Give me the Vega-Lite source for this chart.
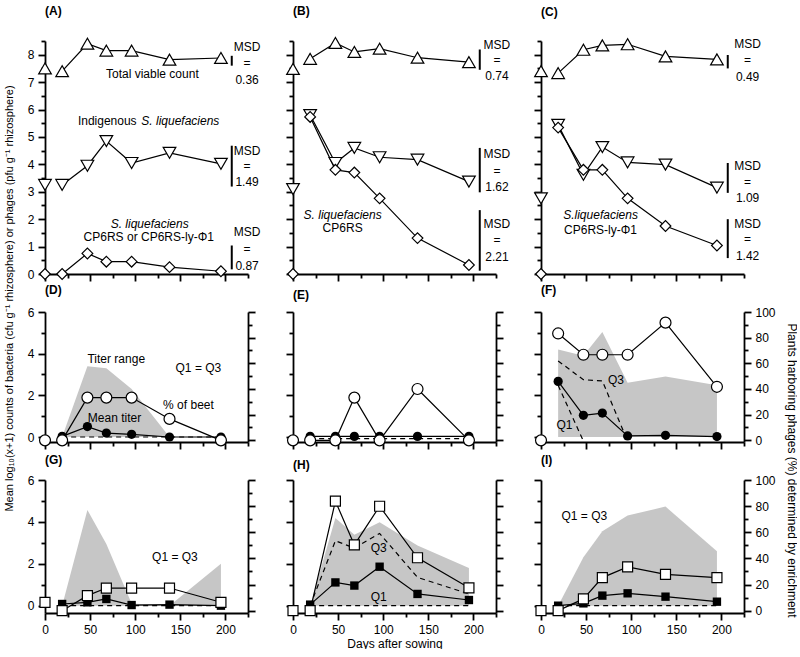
{
"$schema":"https://vega.github.io/schema/vega-lite/v6.json",
"padding":{"left":2,"top":5,"right":0,"bottom":0},
"bounds":"flush",
"columns":3,
"spacing":{"row":38,"column":45},
"datasets":{
"top":[
{"p":"A","s":"tvc","day":0,"v":7.5},{"p":"A","s":"tvc","day":19,"v":7.4},{"p":"A","s":"tvc","day":47,"v":8.4},{"p":"A","s":"tvc","day":68,"v":8.15},{"p":"A","s":"tvc","day":96,"v":8.15},{"p":"A","s":"tvc","day":138,"v":7.82},{"p":"A","s":"tvc","day":195,"v":7.88},
{"p":"A","s":"ind","day":0,"v":3.25},{"p":"A","s":"ind","day":19,"v":3.25},{"p":"A","s":"ind","day":47,"v":3.95},{"p":"A","s":"ind","day":68,"v":4.85},{"p":"A","s":"ind","day":96,"v":4.05},{"p":"A","s":"ind","day":138,"v":4.42},{"p":"A","s":"ind","day":195,"v":4.02},
{"p":"A","s":"slq","day":0,"v":0},{"p":"A","s":"slq","day":19,"v":0},{"p":"A","s":"slq","day":47,"v":0.75},{"p":"A","s":"slq","day":68,"v":0.45},{"p":"A","s":"slq","day":96,"v":0.45},{"p":"A","s":"slq","day":138,"v":0.25},{"p":"A","s":"slq","day":195,"v":0.1},
{"p":"B","s":"tvc","day":0,"v":7.48},{"p":"B","s":"tvc","day":19,"v":7.85},{"p":"B","s":"tvc","day":47,"v":8.43},{"p":"B","s":"tvc","day":68,"v":8.1},{"p":"B","s":"tvc","day":96,"v":8.22},{"p":"B","s":"tvc","day":138,"v":7.89},{"p":"B","s":"tvc","day":195,"v":7.73},
{"p":"B","s":"ind","day":0,"v":3.1},{"p":"B","s":"ind","day":19,"v":5.8},{"p":"B","s":"ind","day":47,"v":4.05},{"p":"B","s":"ind","day":68,"v":4.6},{"p":"B","s":"ind","day":96,"v":4.26},{"p":"B","s":"ind","day":138,"v":4.17},{"p":"B","s":"ind","day":195,"v":3.37},
{"p":"B","s":"slq","day":0,"v":0},{"p":"B","s":"slq","day":19,"v":5.73},{"p":"B","s":"slq","day":47,"v":3.8},{"p":"B","s":"slq","day":68,"v":3.7},{"p":"B","s":"slq","day":96,"v":2.76},{"p":"B","s":"slq","day":138,"v":1.31},{"p":"B","s":"slq","day":195,"v":0.33},
{"p":"C","s":"tvc","day":0,"v":7.4},{"p":"C","s":"tvc","day":19,"v":7.33},{"p":"C","s":"tvc","day":47,"v":8.18},{"p":"C","s":"tvc","day":68,"v":8.34},{"p":"C","s":"tvc","day":96,"v":8.38},{"p":"C","s":"tvc","day":138,"v":7.94},{"p":"C","s":"tvc","day":195,"v":7.83},
{"p":"C","s":"ind","day":0,"v":2.76},{"p":"C","s":"ind","day":19,"v":5.44},{"p":"C","s":"ind","day":47,"v":3.62},{"p":"C","s":"ind","day":68,"v":4.63},{"p":"C","s":"ind","day":96,"v":4.07},{"p":"C","s":"ind","day":138,"v":3.99},{"p":"C","s":"ind","day":195,"v":3.15},
{"p":"C","s":"slq","day":0,"v":0},{"p":"C","s":"slq","day":19,"v":5.34},{"p":"C","s":"slq","day":47,"v":3.8},{"p":"C","s":"slq","day":68,"v":3.8},{"p":"C","s":"slq","day":96,"v":2.76},{"p":"C","s":"slq","day":138,"v":1.75},{"p":"C","s":"slq","day":195,"v":1.04}
],
"msd":[
{"p":"A","day":207,"v":7.6,"v2":7.96},{"p":"A","day":207,"v":3.19,"v2":4.68},{"p":"A","day":207,"v":0.17,"v2":1.04},
{"p":"B","day":207,"v":7.45,"v2":8.19},{"p":"B","day":207,"v":2.98,"v2":4.6},{"p":"B","day":207,"v":0.12,"v2":2.33},
{"p":"C","day":207,"v":7.5,"v2":7.99},{"p":"C","day":207,"v":2.96,"v2":4.05},{"p":"C","day":207,"v":0.58,"v2":2.0}
],
"msdt":[
{"p":"A","day":224,"v":8.28,"t":"MSD"},{"p":"A","day":224,"v":7.69,"t":"="},{"p":"A","day":224,"v":7.09,"t":"0.36"},
{"p":"A","day":224,"v":4.48,"t":"MSD"},{"p":"A","day":224,"v":3.93,"t":"="},{"p":"A","day":224,"v":3.34,"t":"1.49"},
{"p":"A","day":224,"v":1.53,"t":"MSD"},{"p":"A","day":224,"v":0.92,"t":"="},{"p":"A","day":224,"v":0.31,"t":"0.87"},
{"p":"B","day":226,"v":8.34,"t":"MSD"},{"p":"B","day":226,"v":7.79,"t":"="},{"p":"B","day":226,"v":7.24,"t":"0.74"},
{"p":"B","day":226,"v":4.36,"t":"MSD"},{"p":"B","day":226,"v":3.77,"t":"="},{"p":"B","day":226,"v":3.19,"t":"1.62"},
{"p":"B","day":226,"v":1.84,"t":"MSD"},{"p":"B","day":226,"v":1.23,"t":"="},{"p":"B","day":226,"v":0.61,"t":"2.21"},
{"p":"C","day":229,"v":8.4,"t":"MSD"},{"p":"C","day":229,"v":7.82,"t":"="},{"p":"C","day":229,"v":7.2,"t":"0.49"},
{"p":"C","day":229,"v":3.93,"t":"MSD"},{"p":"C","day":229,"v":3.35,"t":"="},{"p":"C","day":229,"v":2.76,"t":"1.09"},
{"p":"C","day":229,"v":1.84,"t":"MSD"},{"p":"C","day":229,"v":1.26,"t":"="},{"p":"C","day":229,"v":0.67,"t":"1.42"}
],
"ann":[
{"p":"A","day":119,"v":7.3,"t":"Total viable count"},{"p":"A","day":69,"v":5.58,"t":"Indigenous"},{"p":"A","day":115,"v":1.35,"t":"CP6RS or CP6RS-ly-Φ1"},
{"p":"B","day":55,"v":1.68,"t":"CP6RS"},
{"p":"C","day":66,"v":1.6,"t":"CP6RS-ly-Φ1"},
{"p":"D","day":79,"v":3.76,"t":"Titer range"},{"p":"D","day":170,"v":3.31,"t":"Q1 = Q3"},{"p":"D","day":159,"v":1.52,"t":"% of beet"},{"p":"D","day":77,"v":0.93,"t":"Mean titer"},
{"p":"F","day":83,"v":2.75,"t":"Q3"},{"p":"F","day":26,"v":0.56,"t":"Q1"},
{"p":"G","day":144,"v":2.32,"t":"Q1 = Q3"},
{"p":"H","day":95,"v":2.77,"t":"Q3"},{"p":"H","day":95,"v":0.4,"t":"Q1"},
{"p":"I","day":48,"v":4.27,"t":"Q1 = Q3"}
],
"anni":[
{"p":"A","day":150,"v":5.58,"t":"S. liquefaciens"},{"p":"A","day":116,"v":1.84,"t":"S. liquefaciens"},
{"p":"B","day":55,"v":2.17,"t":"S. liquefaciens"},
{"p":"C","day":66,"v":2.15,"t":"S.liquefaciens"}
],
"bot":[
{"p":"D","s":"pct","day":0,"v":0},{"p":"D","s":"pct","day":19,"v":0},{"p":"D","s":"pct","day":47,"v":33.3},{"p":"D","s":"pct","day":68,"v":33.3},{"p":"D","s":"pct","day":96,"v":33.3},{"p":"D","s":"pct","day":138,"v":16.7},{"p":"D","s":"pct","day":195,"v":0},
{"p":"D","s":"mean","day":19,"v":0.03},{"p":"D","s":"mean","day":47,"v":0.5},{"p":"D","s":"mean","day":68,"v":0.19},{"p":"D","s":"mean","day":96,"v":0.13},{"p":"D","s":"mean","day":138,"v":0},{"p":"D","s":"mean","day":195,"v":0},
{"p":"D","s":"q1","day":19,"v":0},{"p":"D","s":"q1","day":47,"v":0},{"p":"D","s":"q1","day":68,"v":0},{"p":"D","s":"q1","day":96,"v":0},{"p":"D","s":"q1","day":138,"v":0},{"p":"D","s":"q1","day":195,"v":0},
{"p":"E","s":"pct","day":0,"v":0},{"p":"E","s":"pct","day":19,"v":0},{"p":"E","s":"pct","day":47,"v":0},{"p":"E","s":"pct","day":68,"v":33.3},{"p":"E","s":"pct","day":96,"v":0},{"p":"E","s":"pct","day":138,"v":40},{"p":"E","s":"pct","day":195,"v":0},
{"p":"E","s":"mean","day":19,"v":0.03},{"p":"E","s":"mean","day":47,"v":0.03},{"p":"E","s":"mean","day":68,"v":0.03},{"p":"E","s":"mean","day":96,"v":0.03},{"p":"E","s":"mean","day":138,"v":0.03},{"p":"E","s":"mean","day":195,"v":0.03},
{"p":"E","s":"q1","day":19,"v":-0.08},{"p":"E","s":"q1","day":195,"v":-0.08},
{"p":"F","s":"pct","day":0,"v":0},{"p":"F","s":"pct","day":19,"v":83.3},{"p":"F","s":"pct","day":47,"v":66.7},{"p":"F","s":"pct","day":68,"v":66.7},{"p":"F","s":"pct","day":96,"v":66.7},{"p":"F","s":"pct","day":138,"v":91.7},{"p":"F","s":"pct","day":195,"v":41.7},
{"p":"F","s":"mean","day":19,"v":2.67},{"p":"F","s":"mean","day":47,"v":1.04},{"p":"F","s":"mean","day":68,"v":1.15},{"p":"F","s":"mean","day":96,"v":0.05},{"p":"F","s":"mean","day":138,"v":0.08},{"p":"F","s":"mean","day":195,"v":0.02},
{"p":"F","s":"q3","day":19,"v":3.65},{"p":"F","s":"q3","day":47,"v":2.75},{"p":"F","s":"q3","day":68,"v":2.69},{"p":"F","s":"q3","day":96,"v":-0.2},
{"p":"F","s":"q1","day":19,"v":2.48},{"p":"F","s":"q1","day":47,"v":-0.2},
{"p":"G","s":"pct","day":0,"v":6.4},{"p":"G","s":"pct","day":19,"v":0},{"p":"G","s":"pct","day":47,"v":11.5},{"p":"G","s":"pct","day":68,"v":17.3},{"p":"G","s":"pct","day":96,"v":17.3},{"p":"G","s":"pct","day":138,"v":17.3},{"p":"G","s":"pct","day":195,"v":6.4},
{"p":"G","s":"mean","day":19,"v":0.08},{"p":"G","s":"mean","day":47,"v":0.16},{"p":"G","s":"mean","day":68,"v":0.32},{"p":"G","s":"mean","day":96,"v":0.03},{"p":"G","s":"mean","day":138,"v":0.05},{"p":"G","s":"mean","day":195,"v":0},
{"p":"G","s":"q1","day":19,"v":0},{"p":"G","s":"q1","day":195,"v":0},
{"p":"H","s":"pct","day":0,"v":0},{"p":"H","s":"pct","day":19,"v":0},{"p":"H","s":"pct","day":47,"v":83.8},{"p":"H","s":"pct","day":68,"v":50.3},{"p":"H","s":"pct","day":96,"v":79.9},{"p":"H","s":"pct","day":138,"v":40.5},{"p":"H","s":"pct","day":195,"v":17.5},
{"p":"H","s":"mean","day":19,"v":0.05},{"p":"H","s":"mean","day":47,"v":1.11},{"p":"H","s":"mean","day":68,"v":0.96},{"p":"H","s":"mean","day":96,"v":1.86},{"p":"H","s":"mean","day":138,"v":0.56},{"p":"H","s":"mean","day":195,"v":0.27},
{"p":"H","s":"q3","day":19,"v":0},{"p":"H","s":"q3","day":47,"v":3.1},{"p":"H","s":"q3","day":68,"v":2.75},{"p":"H","s":"q3","day":96,"v":3.45},{"p":"H","s":"q3","day":138,"v":1.35},{"p":"H","s":"q3","day":195,"v":0.56},
{"p":"H","s":"q1","day":19,"v":0},{"p":"H","s":"q1","day":195,"v":0},
{"p":"I","s":"pct","day":0,"v":0},{"p":"I","s":"pct","day":19,"v":0},{"p":"I","s":"pct","day":47,"v":9},{"p":"I","s":"pct","day":68,"v":25.3},{"p":"I","s":"pct","day":96,"v":33.5},{"p":"I","s":"pct","day":138,"v":27.8},{"p":"I","s":"pct","day":195,"v":25.3},
{"p":"I","s":"mean","day":19,"v":0},{"p":"I","s":"mean","day":47,"v":0.11},{"p":"I","s":"mean","day":68,"v":0.48},{"p":"I","s":"mean","day":96,"v":0.59},{"p":"I","s":"mean","day":138,"v":0.43},{"p":"I","s":"mean","day":195,"v":0.19},
{"p":"I","s":"q1","day":19,"v":0},{"p":"I","s":"q1","day":195,"v":0}
],
"rng":[
{"p":"D","day":19,"v":0,"v2":0},{"p":"D","day":47,"v":3.4,"v2":0},{"p":"D","day":68,"v":3.3,"v2":0},{"p":"D","day":96,"v":2.3,"v2":0},{"p":"D","day":138,"v":0,"v2":0},{"p":"D","day":195,"v":0,"v2":0},
{"p":"F","day":19,"v":4.2,"v2":0},{"p":"F","day":47,"v":3.9,"v2":0},{"p":"F","day":68,"v":5.04,"v2":0},{"p":"F","day":96,"v":2.6,"v2":0},{"p":"F","day":138,"v":2.9,"v2":0},{"p":"F","day":195,"v":2.48,"v2":0},
{"p":"G","day":19,"v":0,"v2":0},{"p":"G","day":47,"v":4.57,"v2":0},{"p":"G","day":68,"v":2.95,"v2":0},{"p":"G","day":96,"v":0.1,"v2":0},{"p":"G","day":138,"v":0,"v2":0},{"p":"G","day":195,"v":2.0,"v2":0},
{"p":"H","day":19,"v":0,"v2":0},{"p":"H","day":47,"v":4.19,"v2":0},{"p":"H","day":68,"v":3.39,"v2":0},{"p":"H","day":96,"v":3.98,"v2":0},{"p":"H","day":138,"v":2.87,"v2":0},{"p":"H","day":195,"v":1.8,"v2":0},
{"p":"I","day":19,"v":0,"v2":0},{"p":"I","day":47,"v":2.31,"v2":0},{"p":"I","day":68,"v":3.55,"v2":0},{"p":"I","day":96,"v":4.3,"v2":0},{"p":"I","day":138,"v":4.73,"v2":0},{"p":"I","day":195,"v":2.6,"v2":0}
]
},
"concat":[
{"width":203,"height":233,"title":{"text":"(A)","offset":17},
 "encoding":{"x":{"field":"day","type":"quantitative","scale":{"domain":[0,225],"nice":false,"zero":false},"axis":{"values":[0,25,50,75,100,125,150,175,200,225],"tickSize":{"condition":{"test":"datum.value % 50 == 0","value":7},"value":4},"labels":false,"title":null}},
  "y":{"field":"v","type":"quantitative","scale":{"domain":[0,8.5],"nice":false},"axis":{"values":[0,0.5,1,1.5,2,2.5,3,3.5,4,4.5,5,5.5,6,6.5,7,7.5,8,8.5],"tickSize":{"condition":{"test":"datum.value % 1 == 0","value":7},"value":4},"labelExpr":"datum.value % 1 == 0 ? format(datum.value, 'd') : ''","title":"Mean log₁₀(x+1) counts of bacteria (cfu g⁻¹ rhizosphere) or phages (pfu g⁻¹ rhizosphere)","titleX":-36,"titleY":257,"titleAngle":270,"titleFontSize":11,"titleBaseline":"middle","titleAlign":"center"}}},
 "layer":[
  {"data":{"name":"top"},"transform":[{"filter":"datum.p=='A' && datum.day>0"}],"mark":{"type":"line","color":"black","strokeWidth":1.2},"encoding":{"detail":{"field":"s"}}},
  {"data":{"name":"top"},"transform":[{"filter":"datum.p=='A' && datum.s=='tvc'"}],"mark":{"type":"point","shape":"triangle-up","size":160,"filled":true,"fill":"white","stroke":"black","strokeWidth":1.2,"opacity":1}},
  {"data":{"name":"top"},"transform":[{"filter":"datum.p=='A' && datum.s=='ind'"}],"mark":{"type":"point","shape":"triangle-down","size":160,"filled":true,"fill":"white","stroke":"black","strokeWidth":1.2,"opacity":1}},
  {"data":{"name":"top"},"transform":[{"filter":"datum.p=='A' && datum.s=='slq'"}],"mark":{"type":"point","shape":"diamond","size":115,"filled":true,"fill":"white","stroke":"black","strokeWidth":1.2,"opacity":1}},
  {"data":{"name":"msd"},"transform":[{"filter":"datum.p=='A'"}],"mark":{"type":"rule","color":"black","strokeWidth":2},"encoding":{"y2":{"field":"v2"}}},
  {"data":{"name":"msdt"},"transform":[{"filter":"datum.p=='A'"}],"mark":{"type":"text","fontSize":12,"color":"black"},"encoding":{"text":{"field":"t"}}},
  {"data":{"name":"ann"},"transform":[{"filter":"datum.p=='A'"}],"mark":{"type":"text","fontSize":12,"color":"black"},"encoding":{"text":{"field":"t"}}},
  {"data":{"name":"anni"},"transform":[{"filter":"datum.p=='A'"}],"mark":{"type":"text","fontSize":12,"fontStyle":"italic","color":"black"},"encoding":{"text":{"field":"t"}}}
 ]},
{"width":203,"height":233,"title":{"text":"(B)","offset":17},
 "encoding":{"x":{"field":"day","type":"quantitative","scale":{"domain":[0,225],"nice":false,"zero":false},"axis":{"values":[0,25,50,75,100,125,150,175,200,225],"tickSize":{"condition":{"test":"datum.value % 50 == 0","value":7},"value":4},"labels":false,"title":null}},
  "y":{"field":"v","type":"quantitative","scale":{"domain":[0,8.5],"nice":false},"axis":{"values":[0,0.5,1,1.5,2,2.5,3,3.5,4,4.5,5,5.5,6,6.5,7,7.5,8,8.5],"tickSize":{"condition":{"test":"datum.value % 1 == 0","value":7},"value":4},"labels":false,"title":null}}},
 "layer":[
  {"data":{"name":"top"},"transform":[{"filter":"datum.p=='B' && datum.day>0"}],"mark":{"type":"line","color":"black","strokeWidth":1.2},"encoding":{"detail":{"field":"s"}}},
  {"data":{"name":"top"},"transform":[{"filter":"datum.p=='B' && datum.s=='tvc'"}],"mark":{"type":"point","shape":"triangle-up","size":160,"filled":true,"fill":"white","stroke":"black","strokeWidth":1.2,"opacity":1}},
  {"data":{"name":"top"},"transform":[{"filter":"datum.p=='B' && datum.s=='ind'"}],"mark":{"type":"point","shape":"triangle-down","size":160,"filled":true,"fill":"white","stroke":"black","strokeWidth":1.2,"opacity":1}},
  {"data":{"name":"top"},"transform":[{"filter":"datum.p=='B' && datum.s=='slq'"}],"mark":{"type":"point","shape":"diamond","size":115,"filled":true,"fill":"white","stroke":"black","strokeWidth":1.2,"opacity":1}},
  {"data":{"name":"msd"},"transform":[{"filter":"datum.p=='B'"}],"mark":{"type":"rule","color":"black","strokeWidth":2},"encoding":{"y2":{"field":"v2"}}},
  {"data":{"name":"msdt"},"transform":[{"filter":"datum.p=='B'"}],"mark":{"type":"text","fontSize":12,"color":"black"},"encoding":{"text":{"field":"t"}}},
  {"data":{"name":"ann"},"transform":[{"filter":"datum.p=='B'"}],"mark":{"type":"text","fontSize":12,"color":"black"},"encoding":{"text":{"field":"t"}}},
  {"data":{"name":"anni"},"transform":[{"filter":"datum.p=='B'"}],"mark":{"type":"text","fontSize":12,"fontStyle":"italic","color":"black"},"encoding":{"text":{"field":"t"}}}
 ]},
{"width":203,"height":233,"title":{"text":"(C)","offset":17},
 "encoding":{"x":{"field":"day","type":"quantitative","scale":{"domain":[0,225],"nice":false,"zero":false},"axis":{"values":[0,25,50,75,100,125,150,175,200,225],"tickSize":{"condition":{"test":"datum.value % 50 == 0","value":7},"value":4},"labels":false,"title":null}},
  "y":{"field":"v","type":"quantitative","scale":{"domain":[0,8.5],"nice":false},"axis":{"values":[0,0.5,1,1.5,2,2.5,3,3.5,4,4.5,5,5.5,6,6.5,7,7.5,8,8.5],"tickSize":{"condition":{"test":"datum.value % 1 == 0","value":7},"value":4},"labels":false,"title":null}}},
 "layer":[
  {"data":{"name":"top"},"transform":[{"filter":"datum.p=='C' && datum.day>0"}],"mark":{"type":"line","color":"black","strokeWidth":1.2},"encoding":{"detail":{"field":"s"}}},
  {"data":{"name":"top"},"transform":[{"filter":"datum.p=='C' && datum.s=='tvc'"}],"mark":{"type":"point","shape":"triangle-up","size":160,"filled":true,"fill":"white","stroke":"black","strokeWidth":1.2,"opacity":1}},
  {"data":{"name":"top"},"transform":[{"filter":"datum.p=='C' && datum.s=='ind'"}],"mark":{"type":"point","shape":"triangle-down","size":160,"filled":true,"fill":"white","stroke":"black","strokeWidth":1.2,"opacity":1}},
  {"data":{"name":"top"},"transform":[{"filter":"datum.p=='C' && datum.s=='slq'"}],"mark":{"type":"point","shape":"diamond","size":115,"filled":true,"fill":"white","stroke":"black","strokeWidth":1.2,"opacity":1}},
  {"data":{"name":"msd"},"transform":[{"filter":"datum.p=='C'"}],"mark":{"type":"rule","color":"black","strokeWidth":2},"encoding":{"y2":{"field":"v2"}}},
  {"data":{"name":"msdt"},"transform":[{"filter":"datum.p=='C'"}],"mark":{"type":"text","fontSize":12,"color":"black"},"encoding":{"text":{"field":"t"}}},
  {"data":{"name":"ann"},"transform":[{"filter":"datum.p=='C'"}],"mark":{"type":"text","fontSize":12,"color":"black"},"encoding":{"text":{"field":"t"}}},
  {"data":{"name":"anni"},"transform":[{"filter":"datum.p=='C'"}],"mark":{"type":"text","fontSize":12,"fontStyle":"italic","color":"black"},"encoding":{"text":{"field":"t"}}}
 ]},
{"width":203,"height":130,"title":{"text":"(D)","offset":9},
 "encoding":{"x":{"field":"day","type":"quantitative","scale":{"domain":[0,225],"nice":false,"zero":false},"axis":{"values":[0,25,50,75,100,125,150,175,200,225],"tickSize":{"condition":{"test":"datum.value % 50 == 0","value":7},"value":4},"labels":false,"title":null}}},
 "layer":[
  {"encoding":{"y":{"field":"v","type":"quantitative","scale":{"domain":[-0.24,6],"nice":false,"zero":false},"axis":{"values":[0,1,2,3,4,5,6],"tickSize":{"condition":{"test":"datum.value % 2 == 0","value":7},"value":4},"labelExpr":"datum.value % 2 == 0 ? datum.label : ''","title":null}}},
   "layer":[
    {"data":{"name":"rng"},"transform":[{"filter":"datum.p=='D'"}],"mark":{"type":"area","color":"#c6c6c6","opacity":1},"encoding":{"y2":{"field":"v2"}}},
    {"data":{"name":"bot"},"transform":[{"filter":"datum.p=='D' && (datum.s=='q1' || datum.s=='q3')"}],"mark":{"type":"line","color":"black","strokeWidth":1.2,"strokeDash":[5,4]},"encoding":{"detail":{"field":"s"}}},
    {"data":{"name":"bot"},"transform":[{"filter":"datum.p=='D' && datum.s=='mean'"}],"mark":{"type":"line","color":"black","strokeWidth":1.2}},
    {"data":{"name":"bot"},"transform":[{"filter":"datum.p=='D' && datum.s=='mean'"}],"mark":{"type":"point","shape":"circle","size":85,"filled":true,"color":"black","opacity":1}},
    {"data":{"name":"ann"},"transform":[{"filter":"datum.p=='D'"}],"mark":{"type":"text","fontSize":12,"color":"black"},"encoding":{"text":{"field":"t"}}}
   ]},
  {"encoding":{"y":{"field":"v","type":"quantitative","scale":{"domain":[-1.3,100],"nice":false,"zero":false},"axis":{"orient":"right","values":[0,10,20,30,40,50,60,70,80,90,100],"tickSize":{"condition":{"test":"datum.value % 20 == 0","value":7},"value":4},"labels":false,"title":null}}},
   "layer":[
    {"data":{"name":"bot"},"transform":[{"filter":"datum.p=='D' && datum.s=='pct' && datum.day>0"}],"mark":{"type":"line","color":"black","strokeWidth":1.2}},
    {"data":{"name":"bot"},"transform":[{"filter":"datum.p=='D' && datum.s=='pct'"}],"mark":{"type":"point","shape":"circle","size":120,"filled":true,"fill":"white","stroke":"black","strokeWidth":1.2,"opacity":1}}
   ]}
 ],
 "resolve":{"scale":{"y":"independent"}}},
{"width":203,"height":130,"title":{"text":"(E)","offset":9},
 "encoding":{"x":{"field":"day","type":"quantitative","scale":{"domain":[0,225],"nice":false,"zero":false},"axis":{"values":[0,25,50,75,100,125,150,175,200,225],"tickSize":{"condition":{"test":"datum.value % 50 == 0","value":7},"value":4},"labels":false,"title":null}}},
 "layer":[
  {"encoding":{"y":{"field":"v","type":"quantitative","scale":{"domain":[-0.24,6],"nice":false,"zero":false},"axis":{"values":[0,1,2,3,4,5,6],"tickSize":{"condition":{"test":"datum.value % 2 == 0","value":7},"value":4},"labels":false,"title":null}}},
   "layer":[
    {"data":{"name":"bot"},"transform":[{"filter":"datum.p=='E' && (datum.s=='q1' || datum.s=='q3')"}],"mark":{"type":"line","color":"black","strokeWidth":1.2,"strokeDash":[5,4]},"encoding":{"detail":{"field":"s"}}},
    {"data":{"name":"bot"},"transform":[{"filter":"datum.p=='E' && datum.s=='mean'"}],"mark":{"type":"line","color":"black","strokeWidth":1.2}},
    {"data":{"name":"bot"},"transform":[{"filter":"datum.p=='E' && datum.s=='mean'"}],"mark":{"type":"point","shape":"circle","size":85,"filled":true,"color":"black","opacity":1}}
   ]},
  {"encoding":{"y":{"field":"v","type":"quantitative","scale":{"domain":[-1.3,100],"nice":false,"zero":false},"axis":{"orient":"right","values":[0,10,20,30,40,50,60,70,80,90,100],"tickSize":{"condition":{"test":"datum.value % 20 == 0","value":7},"value":4},"labels":false,"title":null}}},
   "layer":[
    {"data":{"name":"bot"},"transform":[{"filter":"datum.p=='E' && datum.s=='pct' && datum.day>0"}],"mark":{"type":"line","color":"black","strokeWidth":1.2}},
    {"data":{"name":"bot"},"transform":[{"filter":"datum.p=='E' && datum.s=='pct'"}],"mark":{"type":"point","shape":"circle","size":120,"filled":true,"fill":"white","stroke":"black","strokeWidth":1.2,"opacity":1}}
   ]}
 ],
 "resolve":{"scale":{"y":"independent"}}},
{"width":203,"height":130,"title":{"text":"(F)","offset":9},
 "encoding":{"x":{"field":"day","type":"quantitative","scale":{"domain":[0,225],"nice":false,"zero":false},"axis":{"values":[0,25,50,75,100,125,150,175,200,225],"tickSize":{"condition":{"test":"datum.value % 50 == 0","value":7},"value":4},"labels":false,"title":null}}},
 "layer":[
  {"encoding":{"y":{"field":"v","type":"quantitative","scale":{"domain":[-0.24,6],"nice":false,"zero":false},"axis":{"values":[0,1,2,3,4,5,6],"tickSize":{"condition":{"test":"datum.value % 2 == 0","value":7},"value":4},"labels":false,"title":null}}},
   "layer":[
    {"data":{"name":"rng"},"transform":[{"filter":"datum.p=='F'"}],"mark":{"type":"area","color":"#c6c6c6","opacity":1},"encoding":{"y2":{"field":"v2"}}},
    {"data":{"name":"bot"},"transform":[{"filter":"datum.p=='F' && (datum.s=='q1' || datum.s=='q3')"}],"mark":{"type":"line","color":"black","strokeWidth":1.2,"strokeDash":[5,4]},"encoding":{"detail":{"field":"s"}}},
    {"data":{"name":"bot"},"transform":[{"filter":"datum.p=='F' && datum.s=='mean'"}],"mark":{"type":"line","color":"black","strokeWidth":1.2}},
    {"data":{"name":"bot"},"transform":[{"filter":"datum.p=='F' && datum.s=='mean'"}],"mark":{"type":"point","shape":"circle","size":85,"filled":true,"color":"black","opacity":1}},
    {"data":{"name":"ann"},"transform":[{"filter":"datum.p=='F'"}],"mark":{"type":"text","fontSize":12,"color":"black"},"encoding":{"text":{"field":"t"}}}
   ]},
  {"encoding":{"y":{"field":"v","type":"quantitative","scale":{"domain":[-1.3,100],"nice":false,"zero":false},"axis":{"orient":"right","values":[0,10,20,30,40,50,60,70,80,90,100],"tickSize":{"condition":{"test":"datum.value % 20 == 0","value":7},"value":4},"labelExpr":"datum.value % 20 == 0 ? datum.label : ''","title":"Plants harboring phages (%) determined by enrichment","titleX":47,"titleY":158,"titleAngle":90,"titleFontSize":12,"titleBaseline":"middle","titleAlign":"center"}}},
   "layer":[
    {"data":{"name":"bot"},"transform":[{"filter":"datum.p=='F' && datum.s=='pct' && datum.day>0"}],"mark":{"type":"line","color":"black","strokeWidth":1.2}},
    {"data":{"name":"bot"},"transform":[{"filter":"datum.p=='F' && datum.s=='pct'"}],"mark":{"type":"point","shape":"circle","size":120,"filled":true,"fill":"white","stroke":"black","strokeWidth":1.2,"opacity":1}}
   ]}
 ],
 "resolve":{"scale":{"y":"independent"}}},
{"width":203,"height":133,"title":{"text":"(G)","offset":7},
 "encoding":{"x":{"field":"day","type":"quantitative","scale":{"domain":[0,225],"nice":false,"zero":false},"axis":{"values":[0,25,50,75,100,125,150,175,200,225],"tickSize":{"condition":{"test":"datum.value % 50 == 0","value":7},"value":4},"labelExpr":"datum.value % 50 == 0 ? datum.label : ''","title":null}}},
 "layer":[
  {"encoding":{"y":{"field":"v","type":"quantitative","scale":{"domain":[-0.35,6],"nice":false,"zero":false},"axis":{"values":[0,1,2,3,4,5,6],"tickSize":{"condition":{"test":"datum.value % 2 == 0","value":7},"value":4},"labelExpr":"datum.value % 2 == 0 ? datum.label : ''","title":null}}},
   "layer":[
    {"data":{"name":"rng"},"transform":[{"filter":"datum.p=='G'"}],"mark":{"type":"area","color":"#c6c6c6","opacity":1},"encoding":{"y2":{"field":"v2"}}},
    {"data":{"name":"bot"},"transform":[{"filter":"datum.p=='G' && (datum.s=='q1' || datum.s=='q3')"}],"mark":{"type":"line","color":"black","strokeWidth":1.2,"strokeDash":[5,4]},"encoding":{"detail":{"field":"s"}}},
    {"data":{"name":"bot"},"transform":[{"filter":"datum.p=='G' && datum.s=='mean'"}],"mark":{"type":"line","color":"black","strokeWidth":1.2}},
    {"data":{"name":"bot"},"transform":[{"filter":"datum.p=='G' && datum.s=='mean'"}],"mark":{"type":"point","shape":"square","size":70,"filled":true,"color":"black","opacity":1}},
    {"data":{"name":"ann"},"transform":[{"filter":"datum.p=='G'"}],"mark":{"type":"text","fontSize":12,"color":"black"},"encoding":{"text":{"field":"t"}}}
   ]},
  {"encoding":{"y":{"field":"v","type":"quantitative","scale":{"domain":[-1.8,100],"nice":false,"zero":false},"axis":{"orient":"right","values":[0,10,20,30,40,50,60,70,80,90,100],"tickSize":{"condition":{"test":"datum.value % 20 == 0","value":7},"value":4},"labels":false,"title":null}}},
   "layer":[
    {"data":{"name":"bot"},"transform":[{"filter":"datum.p=='G' && datum.s=='pct' && datum.day>0"}],"mark":{"type":"line","color":"black","strokeWidth":1.2}},
    {"data":{"name":"bot"},"transform":[{"filter":"datum.p=='G' && datum.s=='pct'"}],"mark":{"type":"point","shape":"square","size":100,"filled":true,"fill":"white","stroke":"black","strokeWidth":1.2,"opacity":1}}
   ]}
 ],
 "resolve":{"scale":{"y":"independent"}}},
{"width":203,"height":133,"title":{"text":"(H)","offset":7},
 "encoding":{"x":{"field":"day","type":"quantitative","scale":{"domain":[0,225],"nice":false,"zero":false},"axis":{"values":[0,25,50,75,100,125,150,175,200,225],"tickSize":{"condition":{"test":"datum.value % 50 == 0","value":7},"value":4},"labelExpr":"datum.value % 50 == 0 ? datum.label : ''","title":"Days after sowing","titlePadding":3}}},
 "layer":[
  {"encoding":{"y":{"field":"v","type":"quantitative","scale":{"domain":[-0.35,6],"nice":false,"zero":false},"axis":{"values":[0,1,2,3,4,5,6],"tickSize":{"condition":{"test":"datum.value % 2 == 0","value":7},"value":4},"labels":false,"title":null}}},
   "layer":[
    {"data":{"name":"rng"},"transform":[{"filter":"datum.p=='H'"}],"mark":{"type":"area","color":"#c6c6c6","opacity":1},"encoding":{"y2":{"field":"v2"}}},
    {"data":{"name":"bot"},"transform":[{"filter":"datum.p=='H' && (datum.s=='q1' || datum.s=='q3')"}],"mark":{"type":"line","color":"black","strokeWidth":1.2,"strokeDash":[5,4]},"encoding":{"detail":{"field":"s"}}},
    {"data":{"name":"bot"},"transform":[{"filter":"datum.p=='H' && datum.s=='mean'"}],"mark":{"type":"line","color":"black","strokeWidth":1.2}},
    {"data":{"name":"bot"},"transform":[{"filter":"datum.p=='H' && datum.s=='mean'"}],"mark":{"type":"point","shape":"square","size":70,"filled":true,"color":"black","opacity":1}},
    {"data":{"name":"ann"},"transform":[{"filter":"datum.p=='H'"}],"mark":{"type":"text","fontSize":12,"color":"black"},"encoding":{"text":{"field":"t"}}}
   ]},
  {"encoding":{"y":{"field":"v","type":"quantitative","scale":{"domain":[-1.8,100],"nice":false,"zero":false},"axis":{"orient":"right","values":[0,10,20,30,40,50,60,70,80,90,100],"tickSize":{"condition":{"test":"datum.value % 20 == 0","value":7},"value":4},"labels":false,"title":null}}},
   "layer":[
    {"data":{"name":"bot"},"transform":[{"filter":"datum.p=='H' && datum.s=='pct' && datum.day>0"}],"mark":{"type":"line","color":"black","strokeWidth":1.2}},
    {"data":{"name":"bot"},"transform":[{"filter":"datum.p=='H' && datum.s=='pct'"}],"mark":{"type":"point","shape":"square","size":100,"filled":true,"fill":"white","stroke":"black","strokeWidth":1.2,"opacity":1}}
   ]}
 ],
 "resolve":{"scale":{"y":"independent"}}},
{"width":203,"height":133,"title":{"text":"(I)","offset":7},
 "encoding":{"x":{"field":"day","type":"quantitative","scale":{"domain":[0,225],"nice":false,"zero":false},"axis":{"values":[0,25,50,75,100,125,150,175,200,225],"tickSize":{"condition":{"test":"datum.value % 50 == 0","value":7},"value":4},"labelExpr":"datum.value % 50 == 0 ? datum.label : ''","title":null}}},
 "layer":[
  {"encoding":{"y":{"field":"v","type":"quantitative","scale":{"domain":[-0.35,6],"nice":false,"zero":false},"axis":{"values":[0,1,2,3,4,5,6],"tickSize":{"condition":{"test":"datum.value % 2 == 0","value":7},"value":4},"labels":false,"title":null}}},
   "layer":[
    {"data":{"name":"rng"},"transform":[{"filter":"datum.p=='I'"}],"mark":{"type":"area","color":"#c6c6c6","opacity":1},"encoding":{"y2":{"field":"v2"}}},
    {"data":{"name":"bot"},"transform":[{"filter":"datum.p=='I' && (datum.s=='q1' || datum.s=='q3')"}],"mark":{"type":"line","color":"black","strokeWidth":1.2,"strokeDash":[5,4]},"encoding":{"detail":{"field":"s"}}},
    {"data":{"name":"bot"},"transform":[{"filter":"datum.p=='I' && datum.s=='mean'"}],"mark":{"type":"line","color":"black","strokeWidth":1.2}},
    {"data":{"name":"bot"},"transform":[{"filter":"datum.p=='I' && datum.s=='mean'"}],"mark":{"type":"point","shape":"square","size":70,"filled":true,"color":"black","opacity":1}},
    {"data":{"name":"ann"},"transform":[{"filter":"datum.p=='I'"}],"mark":{"type":"text","fontSize":12,"color":"black"},"encoding":{"text":{"field":"t"}}}
   ]},
  {"encoding":{"y":{"field":"v","type":"quantitative","scale":{"domain":[-1.8,100],"nice":false,"zero":false},"axis":{"orient":"right","values":[0,10,20,30,40,50,60,70,80,90,100],"tickSize":{"condition":{"test":"datum.value % 20 == 0","value":7},"value":4},"labelExpr":"datum.value % 20 == 0 ? datum.label : ''","title":null}}},
   "layer":[
    {"data":{"name":"bot"},"transform":[{"filter":"datum.p=='I' && datum.s=='pct' && datum.day>0"}],"mark":{"type":"line","color":"black","strokeWidth":1.2}},
    {"data":{"name":"bot"},"transform":[{"filter":"datum.p=='I' && datum.s=='pct'"}],"mark":{"type":"point","shape":"square","size":100,"filled":true,"fill":"white","stroke":"black","strokeWidth":1.2,"opacity":1}}
   ]}
 ],
 "resolve":{"scale":{"y":"independent"}}}
],
"config":{
 "view":{"stroke":null},
 "font":"Liberation Sans",
 "axis":{"domainColor":"black","domainWidth":1.8,"tickColor":"black","tickWidth":1.8,"labelColor":"black","labelFontSize":12,"labelPadding":4,"labelFlush":false,"labelOverlap":false,"grid":false,"titleColor":"black","titleFontWeight":"normal","titleFontSize":12},
 "title":{"fontSize":12,"fontWeight":"bold","anchor":"start","frame":"group","color":"black"}
}
}
